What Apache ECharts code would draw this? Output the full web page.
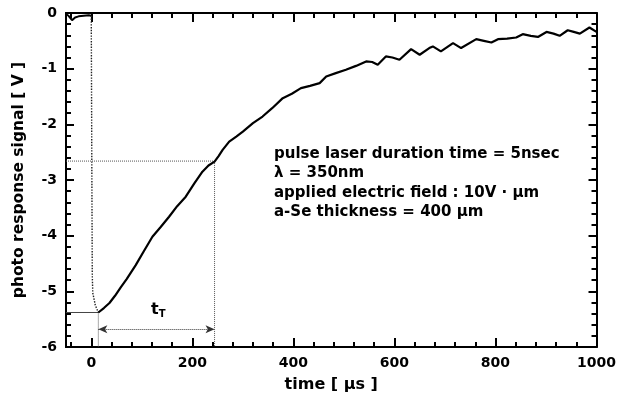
<!DOCTYPE html>
<html>
<head>
<meta charset="utf-8">
<script src="https://cdn.jsdelivr.net/npm/echarts@6/dist/echarts.min.js"></script>
<style>html,body{margin:0;padding:0;background:#fff}#c{width:619px;height:412px}</style>
</head>
<body>
<div id="c"></div>
<script>
// ---- data ----
var preX = [-50, -45, -38, -32, -25, -15, -5, 0];
var preY = [-0.02, -0.05, -0.13, -0.08, -0.06, -0.05, -0.04, -0.05];
var dropX = [0, 1, 2, 3, 8, 14];
var dropY = [-0.05, -2.5, -4.7, -5.03, -5.25, -5.38];
var curveX = [14, 25, 36, 47, 59, 70, 88, 104, 121, 137, 154, 170, 187, 204, 220, 232, 244, 252, 260, 273, 287, 300, 320, 339, 358, 379, 397, 415, 433, 452, 465, 484, 504, 524, 544, 556, 567, 583, 596, 610, 633, 650, 669, 676, 692, 716, 732, 762, 777, 792, 805, 823, 841, 854, 870, 884, 901, 915, 927, 943, 955, 967, 986, 1000];
var curveY = [-5.38, -5.30, -5.21, -5.08, -4.92, -4.78, -4.53, -4.28, -4.02, -3.85, -3.66, -3.47, -3.30, -3.06, -2.85, -2.74, -2.67, -2.57, -2.46, -2.31, -2.22, -2.13, -1.98, -1.86, -1.71, -1.53, -1.45, -1.35, -1.31, -1.26, -1.14, -1.08, -1.02, -0.95, -0.87, -0.88, -0.93, -0.78, -0.80, -0.84, -0.65, -0.75, -0.63, -0.60, -0.69, -0.54, -0.63, -0.47, -0.50, -0.53, -0.47, -0.46, -0.44, -0.38, -0.41, -0.43, -0.34, -0.37, -0.41, -0.31, -0.34, -0.37, -0.26, -0.34];
var transitStart = [14, -5.38];   // curve minimum
var transitEnd = [244, -2.66];    // kink point
var arrowY = -5.68;
var xMajorTicks = [0, 200, 400, 600, 800, 1000];
var xMinorTicks = [-40, 40, 80, 120, 160, 240, 280, 320, 360, 440, 480, 520, 560, 640, 680, 720, 760, 840, 880, 920, 960];
var xRange = [-50, 1000];
var yRange = [-6, 0];
var noteLines = ['pulse laser duration time = 5nsec', '\u03bb = 350nm', 'applied electric field : 10V \u00b7 \u03bcm', 'a-Se thickness = 400 \u03bcm'];

function pairs(xs, ys) { return xs.map(function (x, i) { return [x, ys[i]]; }); }

var FONT = '"DejaVu Sans", sans-serif';
var axisLine = { show: true, onZero: false, lineStyle: { color: '#000', width: 2 } };

function xAx(pos, ticks, len, labels) {
  return {
    type: 'value', position: pos, min: xRange[0], max: xRange[1],
    axisLine: axisLine,
    axisTick: { show: true, inside: true, length: len, customValues: ticks, lineStyle: { color: '#000', width: 2 } },
    axisLabel: labels ? { show: true, customValues: ticks, formatter: function (v) { return String(v); }, color: '#000', fontFamily: FONT, fontWeight: 'bold', fontSize: 14, margin: 9 } : { show: false },
    splitLine: { show: false }
  };
}
function yAx(pos, labels) {
  return {
    type: 'value', position: pos, min: yRange[0], max: yRange[1], interval: 1,
    axisLine: axisLine,
    axisTick: { show: true, inside: true, length: 8, lineStyle: { color: '#000', width: 2 } },
    minorTick: { show: true, splitNumber: 5, length: 5, lineStyle: { color: '#000', width: 2 } },
    axisLabel: labels ? { show: true, color: '#000', fontFamily: FONT, fontWeight: 'bold', fontSize: 14, margin: 9 } : { show: false },
    splitLine: { show: false }, minorSplitLine: { show: false }
  };
}

var xAxes = [xAx('bottom', xMajorTicks, 9, true), xAx('bottom', xMinorTicks, 5, false), xAx('top', xMajorTicks, 9, false), xAx('top', xMinorTicks, 5, false)];
xAxes[0].name = 'time [ \u03bcs ]';
xAxes[0].nameLocation = 'middle';
xAxes[0].nameGap = 30;
xAxes[0].nameTextStyle = { color: '#000', fontFamily: FONT, fontWeight: 'bold', fontSize: 16 };
var yAxes = [yAx('left', true), yAx('right', false)];
yAxes[0].name = 'photo response signal [ V ]';
yAxes[0].nameLocation = 'middle';
yAxes[0].nameGap = 39;
yAxes[0].nameTextStyle = { color: '#000', fontFamily: FONT, fontWeight: 'bold', fontSize: 15.5 };

var option = {
  animation: false,
  backgroundColor: '#fff',
  grid: { left: 66, right: 20, top: 13, bottom: 65 },
  xAxis: xAxes,
  yAxis: yAxes,
  series: [
    { type: 'line', showSymbol: false, data: pairs(preX, preY), lineStyle: { color: '#000', width: 2 }, z: 5 },
    { type: 'line', showSymbol: false, data: pairs(dropX, dropY), lineStyle: { color: '#222', width: 1.4, type: 'dotted' }, z: 5 },
    { type: 'line', showSymbol: false, data: pairs(curveX, curveY), lineStyle: { color: '#000', width: 2.2 }, z: 5 },
    { type: 'line', showSymbol: false, data: [[xRange[0], transitEnd[1]], [transitEnd[0], transitEnd[1]]], lineStyle: { color: '#555', width: 1, type: 'dotted' } },
    { type: 'line', showSymbol: false, data: [[transitEnd[0], transitEnd[1]], [transitEnd[0], yRange[0]]], lineStyle: { color: '#555', width: 1, type: 'dotted' } },
    { type: 'line', showSymbol: false, data: [[xRange[0], transitStart[1]], [transitStart[0], transitStart[1]]], lineStyle: { color: '#444', width: 1 } },
    { type: 'line', showSymbol: false, data: [[transitStart[0], transitStart[1]], [transitStart[0], yRange[0]]], lineStyle: { color: '#555', width: 1, type: 'dotted' } },
    { type: 'line', showSymbol: false, data: [],
      markLine: { silent: true, animation: false, symbol: ['arrow', 'arrow'], symbolSize: [6, 9], label: { show: false },
        lineStyle: { color: '#333', width: 1, type: 'dotted' },
        data: [[{ coord: [transitStart[0], arrowY] }, { coord: [transitEnd[0], arrowY] }]] } }
  ],
  graphic: [
    { type: 'text', left: 151, top: 302, style: { text: '{a|t}{b|T}', rich: { a: { fontFamily: FONT, fontWeight: 'bold', fontSize: 16, fill: '#000' }, b: { fontFamily: FONT, fontWeight: 'bold', fontSize: 10, fill: '#000', padding: [8, 0, 0, 0] } } } },
    { type: 'text', left: 274, top: 144, style: { text: noteLines.join('\n'), fontFamily: FONT, fontWeight: 'bold', fontSize: 15, lineHeight: 19.5, fill: '#000' } }
  ]
};
echarts.init(document.getElementById('c')).setOption(option);
</script>
</body>
</html>
